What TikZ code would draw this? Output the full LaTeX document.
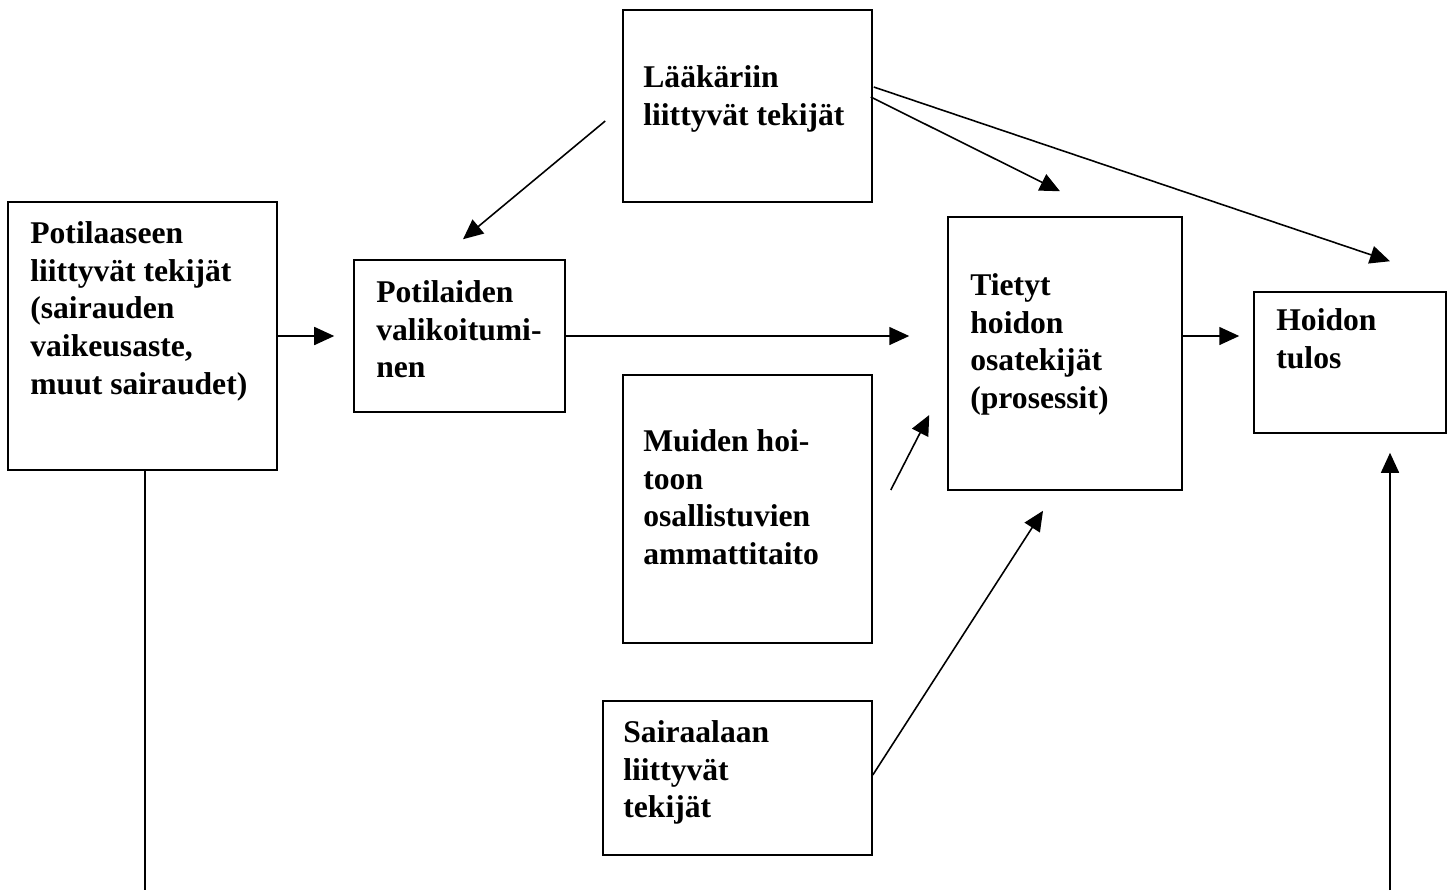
\documentclass[tikz,border=0pt]{standalone}
\usepackage{fontspec}
\setmainfont{Liberation Serif}
\usetikzlibrary{arrows.meta,calc}
\tikzset{box/.style={draw,line width=.9pt,inner sep=0pt},
         txt/.style={anchor=north west,inner sep=0pt,align=left,
                     font=\fontsize{18}{21.5}\selectfont\bfseries},
         arr/.style={-{Triangle[length=4mm,width=3.6mm]},line width=.9pt}}

\begin{document}
\begin{tikzpicture}[x=.02cm,y=-.02cm]
  \useasboundingbox (0,0) rectangle (1456,890);
  \node[box,minimum width=5.38cm,minimum height=5.36cm] (potilas) at (142.5,336) {};
  \node[box,minimum width=4.22cm,minimum height=3.04cm] (valinta) at (459.5,336) {};
  \node[box,minimum width=4.98cm,minimum height=3.84cm] (laakari) at (747.5,106) {};
  \node[box,minimum width=4.68cm,minimum height=5.46cm] (tietyt) at (1065,353.5) {};
  \node[box,minimum width=3.84cm,minimum height=2.82cm] (hoito) at (1350,362.5) {};
  \node[box,minimum width=4.98cm,minimum height=5.36cm] (muut) at (747.5,509) {};
  \node[box,minimum width=5.38cm,minimum height=3.08cm] (sairaala) at (737.5,778) {};

  \node[txt] (potilasTeksti) at (30,221) {Potilaaseen\\liittyvät tekijät\\(sairauden\\vaikeusaste,\\muut sairaudet)};
  \node[txt] (valintaTeksti) at (376,280) {Potilaiden\\valikoitumi-\\nen};
  \node[txt] (laakariTeksti) at (643,65) {Lääkäriin\\liittyvät tekijät};
  \node[txt] (tietytTeksti) at (970,273) {Tietyt\\hoidon\\osatekijät\\(prosessit)};
  \node[txt] (hoitoTeksti) at (1276,308) {Hoidon\\tulos};
  \node[txt] (muutTeksti) at (643,429) {Muiden hoi-\\toon\\osallistuvien\\ammattitaito};
  \node[txt] (sairaalaTeksti) at (623,720) {Sairaalaan\\liittyvät\\tekijät};

  \coordinate (vasenAla) at (145,890);
  \coordinate (oikeaAla) at (1390,890);

  \draw[arr,shorten >=.38cm] (potilas.east) -- (valinta.west);
  \draw[arr,shorten >=.76cm] (valinta.east) -- (valinta.east -| tietyt.west);
  \draw[arr,shorten >=.28cm] (tietyt.east |- valinta.east) -- (hoito.west |- valinta.east);
  \draw[arr] ($(laakari.west)+(-17,15)$) -- ($(valinta.north)+(3.5,-20)$);
  \draw[arr] ($(laakari.east)+(-2,-9)$) -- ($(tietyt.north)+(-5,-25)$);
  \draw[arr] ($(laakari.east)+(1,-19)$) -- ($(hoito.north)+(40,-30)$);
  \draw[arr] ($(muut.east)+(18,-19)$) -- ($(tietyt.west)+(-18,61.5)$);
  \draw[arr] ($(sairaala.east)+(0,-3)$) -- ($(tietyt.south)+(-22,20)$);
  \draw[line width=.9pt] (vasenAla |- potilas.south) -- (vasenAla);
  \draw[arr,shorten >=.38cm] (oikeaAla) -- (oikeaAla |- hoito.south);
\end{tikzpicture}
\end{document}
